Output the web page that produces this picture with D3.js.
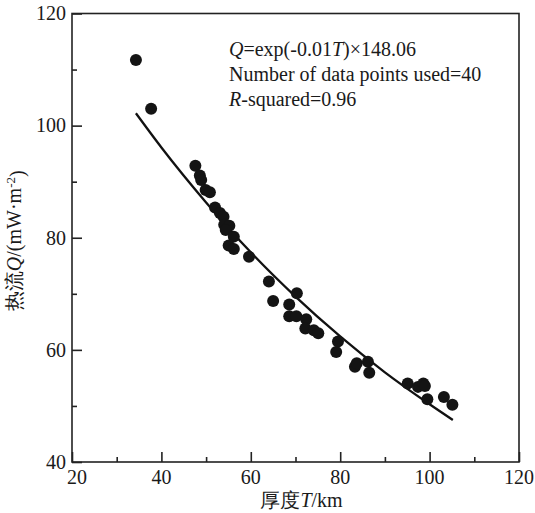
<!DOCTYPE html>
<html>
<head>
<meta charset="utf-8">
<script src="https://cdn.jsdelivr.net/npm/d3@7"></script>
<style>
  body { margin: 0; background: #fff; }
  svg text { font-family: "Liberation Serif", "Times New Roman", serif; fill: #1a1a1a; }
</style>
</head>
<body>
<div class="chart"></div>
<script>
// Heat flow vs thickness scatter with exponential fit

// thickness T (km) for each measured point
var thickness = [34.3, 37.7, 47.6, 48.6, 48.9, 49.9, 50.85, 52.0, 53.1, 53.9,
                 54.05, 55.2, 54.4, 56.2, 55.05, 56.2, 59.6, 64.05, 65.0, 70.3,
                 68.6, 68.6, 70.2, 72.4, 72.2, 74.1, 75.1, 79.5, 79.1, 83.3,
                 83.7, 86.2, 86.5, 95.1, 97.4, 98.6, 98.95, 99.5, 103.2, 105.1];
// heat flow Q (mW/m2) for each measured point
var heatFlow = [111.7, 103.0, 92.85, 91.1, 90.3, 88.5, 88.1, 85.4, 84.4, 83.75,
                82.3, 82.15, 81.4, 80.2, 78.6, 78.0, 76.6, 72.2, 68.7, 70.1,
                68.1, 66.0, 66.0, 65.45, 63.8, 63.5, 62.95, 61.5, 59.6, 57.0,
                57.6, 57.9, 55.9, 54.0, 53.4, 54.0, 53.55, 51.2, 51.6, 50.2];

// fitted curve
var fitT = [34.3, 40, 50, 60, 70, 80, 90, 100, 105.2];
var fitQ = [102.2, 96.1, 86.3, 77.4, 69.5, 62.4, 56.0, 50.3, 47.5];

var xTicks = [20, 40, 60, 80, 100, 120];
var xMinor = [30, 50, 70, 90, 110];
var yTicks = [40, 60, 80, 100, 120];
var yMinor = [50, 70, 90, 110];

var svgWidth = 535;
var svgHeight = 513;
var margin = { top: 13.5, right: 16, bottom: 51, left: 72 };
var chartWidth = svgWidth - margin.left - margin.right;
var chartHeight = svgHeight - margin.top - margin.bottom;

var svg = d3.select(".chart")
            .append("svg")
            .attr("width", svgWidth)
            .attr("height", svgHeight);

var chartGroup = svg.append("g")
                    .attr("transform", `translate(${margin.left}, ${margin.top})`);

var xScale = d3.scaleLinear().domain([20, 120]).range([0, chartWidth]);
var yScale = d3.scaleLinear().domain([40, 120]).range([chartHeight, 0]);

// frame
chartGroup.append("rect")
          .attr("width", chartWidth)
          .attr("height", chartHeight)
          .attr("fill", "none")
          .attr("stroke", "#222")
          .attr("stroke-width", 1.6);

// inward ticks, majors and minors
var bottomAxis = d3.axisBottom(xScale).tickValues(xTicks).tickSize(-10).tickFormat("");
var bottomMinor = d3.axisBottom(xScale).tickValues(xMinor).tickSize(-5).tickFormat("");
var leftAxis = d3.axisLeft(yScale).tickValues(yTicks).tickSize(-10).tickFormat("");
var leftMinor = d3.axisLeft(yScale).tickValues(yMinor).tickSize(-5).tickFormat("");

[[bottomAxis, `translate(0, ${chartHeight})`], [bottomMinor, `translate(0, ${chartHeight})`],
 [leftAxis, null], [leftMinor, null]].forEach(function (a) {
    var g = chartGroup.append("g").call(a[0]);
    if (a[1]) g.attr("transform", a[1]);
    g.select(".domain").remove();
    g.selectAll("line").attr("stroke", "#222").attr("stroke-width", 1.6);
});

// tick labels
chartGroup.append("g").selectAll("text")
          .data(xTicks)
          .enter()
          .append("text")
          .attr("x", d => xScale(d) + (d === 20 ? 5 : 0))
          .attr("y", chartHeight + 22)
          .attr("text-anchor", "middle")
          .style("font-size", "20px")
          .text(d => d);

chartGroup.append("g").selectAll("text")
          .data(yTicks)
          .enter()
          .append("text")
          .attr("x", -6)
          .attr("y", d => yScale(d))
          .attr("dy", "0.34em")
          .attr("text-anchor", "end")
          .style("font-size", "20px")
          .text(d => d);

// fit line
var fitPts = fitT.map((t, i) => [t, fitQ[i]]);
chartGroup.append("path")
          .datum(fitPts)
          .attr("fill", "none")
          .attr("stroke", "#111")
          .attr("stroke-width", 2.3)
          .attr("d", d3.line()
                       .x(d => xScale(d[0]))
                       .y(d => yScale(d[1]))
                       .curve(d3.curveMonotoneX));

// points
chartGroup.selectAll("circle")
          .data(thickness.map((t, i) => [t, heatFlow[i]]))
          .enter()
          .append("circle")
          .attr("cx", d => xScale(d[0]))
          .attr("cy", d => yScale(d[1]))
          .attr("r", 6)
          .attr("fill", "#141414");

// annotation
var note = chartGroup.append("g").style("font-size", "20px");
var l1 = note.append("text").attr("x", 229 - margin.left).attr("y", 56 - margin.top);
l1.append("tspan").style("font-style", "italic").text("Q");
l1.append("tspan").text("=exp(-0.01");
l1.append("tspan").style("font-style", "italic").text("T");
l1.append("tspan").text(")×148.06");
note.append("text").attr("x", 229 - margin.left).attr("y", 81 - margin.top)
    .text("Number of data points used=40");
var l3 = note.append("text").attr("x", 229 - margin.left).attr("y", 106 - margin.top);
l3.append("tspan").style("font-style", "italic").text("R");
l3.append("tspan").text("-squared=0.96");

// axis titles
var xt = chartGroup.append("text")
                   .attr("x", chartWidth / 2 + 6)
                   .attr("y", chartHeight + 45)
                   .attr("text-anchor", "middle")
                   .style("font-size", "20px");
xt.append("tspan").text("厚度");
xt.append("tspan").style("font-style", "italic").text("T");
xt.append("tspan").text("/km");

var yt = chartGroup.append("text")
                   .attr("transform", `translate(${-51}, ${chartHeight / 2 + 3}) rotate(-90)`)
                   .attr("text-anchor", "middle")
                   .style("font-size", "20px");
yt.append("tspan").text("热流");
yt.append("tspan").style("font-style", "italic").text("Q");
yt.append("tspan").text("/(mW·m");
yt.append("tspan").attr("dy", "-0.45em").style("font-size", "13px").text("-2");
yt.append("tspan").attr("dy", "0.45em").text(")");
</script>
</body>
</html>
